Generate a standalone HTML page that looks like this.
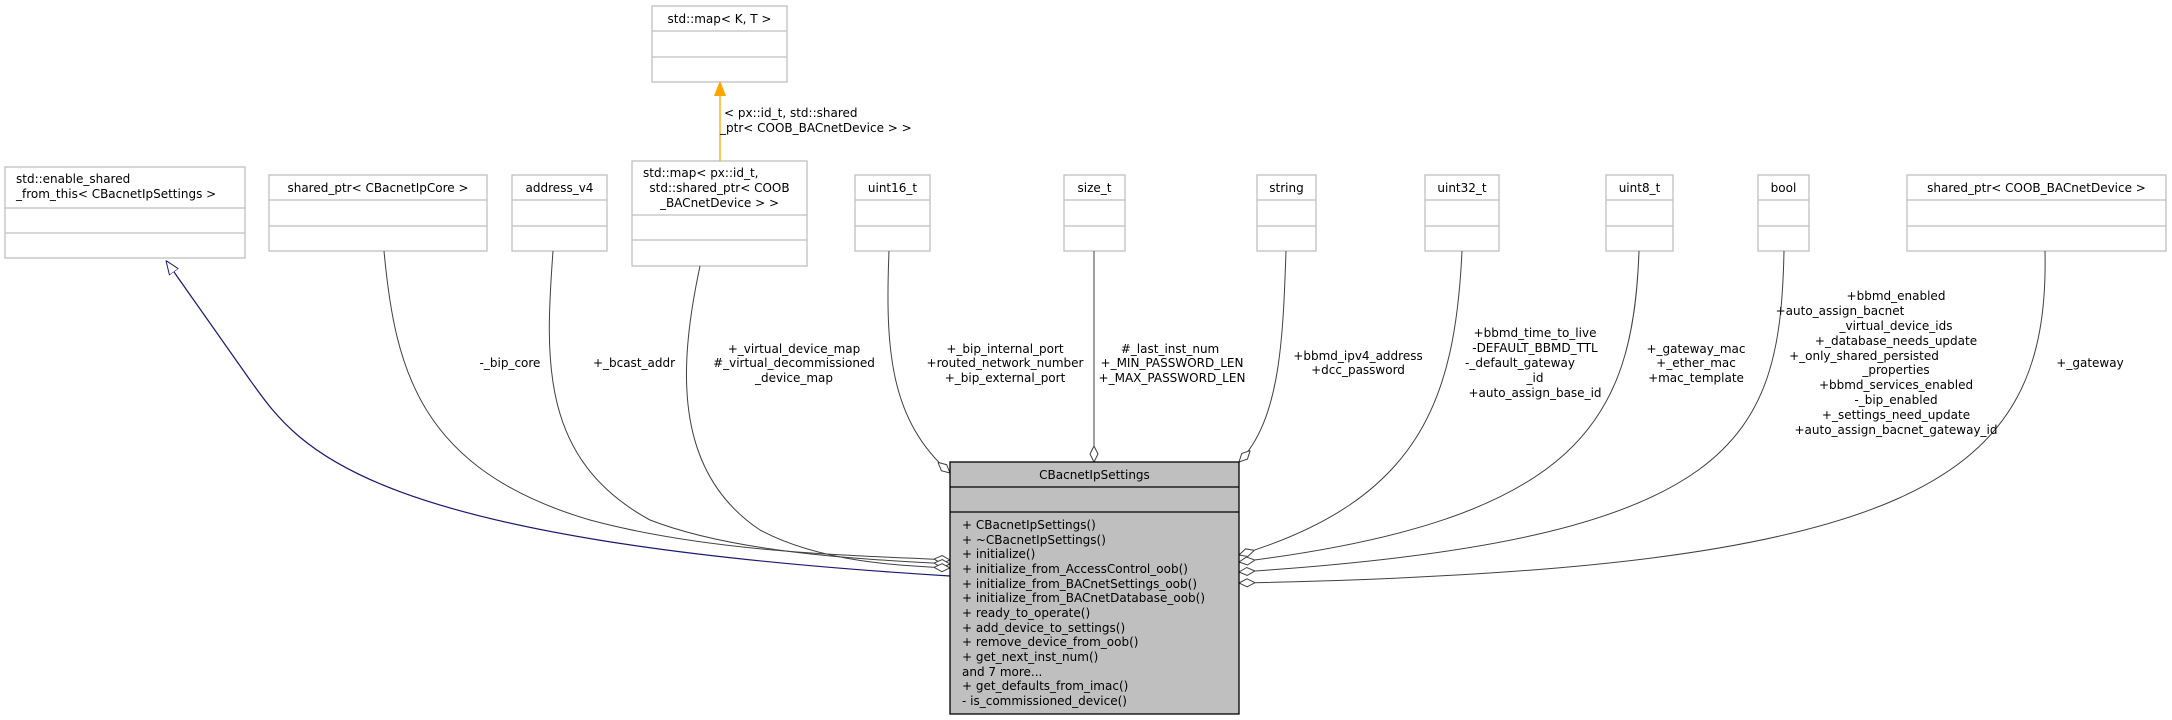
<!DOCTYPE html>
<html><head><meta charset="utf-8"><style>
html,body{margin:0;padding:0;background:#fff;}
svg{display:block;}
text{font-family:"DejaVu Sans","Liberation Sans",sans-serif;font-size:12px;fill:#000;}
.b{fill:#fff;stroke:#bfbfbf;stroke-width:1.3;}
.s{stroke:#bfbfbf;stroke-width:1.3;}
.e{fill:none;stroke:#404040;stroke-width:1;}
</style></head><body>
<svg width="2172" height="720" viewBox="0 0 2172 720" xmlns="http://www.w3.org/2000/svg">
<defs>
<marker id="dia" viewBox="0 0 16 10" refX="16" refY="5" markerWidth="16" markerHeight="10" markerUnits="userSpaceOnUse" orient="auto">
<path d="M0,5 L8,1 L16,5 L8,9 Z" fill="#fff" stroke="#404040" stroke-width="1"/></marker>
<marker id="tri" viewBox="0 0 14 12" refX="0" refY="6" markerWidth="14" markerHeight="12" markerUnits="userSpaceOnUse" orient="auto-start-reverse">
<path d="M14,6 L0,0.5 L0,11.5 Z" fill="#fff" stroke="#191970" stroke-width="1"/></marker>
<marker id="org" viewBox="0 0 14 12" refX="0" refY="6" markerWidth="14" markerHeight="12" markerUnits="userSpaceOnUse" orient="auto-start-reverse">
<path d="M14,6 L0,0.5 L0,11.5 Z" fill="#ffa500" stroke="#ffa500" stroke-width="1"/></marker>
</defs>

<!-- boxes -->
<rect class="b" x="652" y="6" width="135" height="76"/><line class="s" x1="652" y1="31" x2="787" y2="31"/><line class="s" x1="652" y1="57" x2="787" y2="57"/>
<text x="719.5" y="23" text-anchor="middle">std::map&lt; K, T &gt;</text>

<rect class="b" x="5" y="167" width="240" height="91"/><line class="s" x1="5" y1="208" x2="245" y2="208"/><line class="s" x1="5" y1="233" x2="245" y2="233"/>
<text x="16" y="183">std::enable_shared</text><text x="16" y="198">_from_this&lt; CBacnetIpSettings &gt;</text>

<rect class="b" x="269" y="175" width="218" height="76"/><line class="s" x1="269" y1="200" x2="487" y2="200"/><line class="s" x1="269" y1="226" x2="487" y2="226"/>
<text x="378" y="192" text-anchor="middle">shared_ptr&lt; CBacnetIpCore &gt;</text>

<rect class="b" x="512" y="175" width="95" height="76"/><line class="s" x1="512" y1="200" x2="607" y2="200"/><line class="s" x1="512" y1="226" x2="607" y2="226"/>
<text x="559.5" y="192" text-anchor="middle">address_v4</text>

<rect class="b" x="632" y="161" width="175" height="105"/><line class="s" x1="632" y1="215" x2="807" y2="215"/><line class="s" x1="632" y1="240" x2="807" y2="240"/>
<text x="643" y="177">std::map&lt; px::id_t,</text><text x="719.5" y="192" text-anchor="middle">std::shared_ptr&lt; COOB</text><text x="719.5" y="207" text-anchor="middle">_BACnetDevice &gt; &gt;</text>

<rect class="b" x="855" y="175" width="75" height="76"/><line class="s" x1="855" y1="200" x2="930" y2="200"/><line class="s" x1="855" y1="226" x2="930" y2="226"/>
<text x="892.5" y="192" text-anchor="middle">uint16_t</text>

<rect class="b" x="1064" y="175" width="61" height="76"/><line class="s" x1="1064" y1="200" x2="1125" y2="200"/><line class="s" x1="1064" y1="226" x2="1125" y2="226"/>
<text x="1094.5" y="192" text-anchor="middle">size_t</text>

<rect class="b" x="1257" y="175" width="59" height="76"/><line class="s" x1="1257" y1="200" x2="1316" y2="200"/><line class="s" x1="1257" y1="226" x2="1316" y2="226"/>
<text x="1286.5" y="192" text-anchor="middle">string</text>

<rect class="b" x="1425" y="175" width="74" height="76"/><line class="s" x1="1425" y1="200" x2="1499" y2="200"/><line class="s" x1="1425" y1="226" x2="1499" y2="226"/>
<text x="1462" y="192" text-anchor="middle">uint32_t</text>

<rect class="b" x="1606" y="175" width="67" height="76"/><line class="s" x1="1606" y1="200" x2="1673" y2="200"/><line class="s" x1="1606" y1="226" x2="1673" y2="226"/>
<text x="1639.5" y="192" text-anchor="middle">uint8_t</text>

<rect class="b" x="1758" y="175" width="51" height="76"/><line class="s" x1="1758" y1="200" x2="1809" y2="200"/><line class="s" x1="1758" y1="226" x2="1809" y2="226"/>
<text x="1783.5" y="192" text-anchor="middle">bool</text>

<rect class="b" x="1907" y="175" width="259" height="76"/><line class="s" x1="1907" y1="200" x2="2166" y2="200"/><line class="s" x1="1907" y1="226" x2="2166" y2="226"/>
<text x="2036.5" y="192" text-anchor="middle">shared_ptr&lt; COOB_BACnetDevice &gt;</text>

<!-- edges -->
<path d="M720,161 L720,96" fill="none" stroke="#ffa500" stroke-width="1.3" marker-end="url(#org)"/>
<text x="724" y="117">&lt; px::id_t, std::shared</text><text x="720" y="132">_ptr&lt; COOB_BACnetDevice &gt; &gt;</text>

<path d="M174,272 L250,380 C300,450 360,540 950,576" fill="none" stroke="#191970" stroke-width="1.2" marker-start="url(#tri)"/>
<path class="e" d="M384,251 C395,370 420,470 590,520 C720,555 880,556 950,560" marker-end="url(#dia)"/>
<path class="e" d="M553,251 C545,360 540,460 650,520 C740,555 880,560 950,564" marker-end="url(#dia)"/>
<path class="e" d="M700,266 C680,360 670,470 760,530 C820,562 900,566 950,568" marker-end="url(#dia)"/>
<path class="e" d="M889,251 C885,350 890,420 950,473" marker-end="url(#dia)"/>
<path class="e" d="M1094,251 L1094,462" marker-end="url(#dia)"/>
<path class="e" d="M1286,251 C1283,340 1280,420 1239,462" marker-end="url(#dia)"/>
<path class="e" d="M1462,251 C1455,400 1420,500 1239,555" marker-end="url(#dia)"/>
<path class="e" d="M1639,251 C1633,420 1580,520 1239,562" marker-end="url(#dia)"/>
<path class="e" d="M1784,251 C1780,440 1740,540 1239,572" marker-end="url(#dia)"/>
<path class="e" d="M2045,251 C2050,480 1920,570 1239,583" marker-end="url(#dia)"/>

<!-- edge labels -->
<g text-anchor="middle">
<text x="510" y="367">-_bip_core</text>
<text x="634" y="367">+_bcast_addr</text>
<text x="794" y="353">+_virtual_device_map</text><text x="794" y="367">#_virtual_decommissioned</text><text x="794" y="382">_device_map</text>
<text x="1005" y="353">+_bip_internal_port</text><text x="1005" y="367">+routed_network_number</text><text x="1005" y="382">+_bip_external_port</text>
<text x="1170" y="353">#_last_inst_num</text><text x="1172" y="367">+_MIN_PASSWORD_LEN</text><text x="1172" y="382">+_MAX_PASSWORD_LEN</text>
<text x="1358" y="360">+bbmd_ipv4_address</text><text x="1358" y="374">+dcc_password</text>
<text x="1535" y="337">+bbmd_time_to_live</text><text x="1535" y="352">-DEFAULT_BBMD_TTL</text><text x="1520" y="367">-_default_gateway</text><text x="1535" y="382">_id</text><text x="1535" y="397">+auto_assign_base_id</text>
<text x="1696" y="353">+_gateway_mac</text><text x="1696" y="367">+_ether_mac</text><text x="1696" y="382">+mac_template</text>
<text x="1896" y="300">+bbmd_enabled</text><text x="1840" y="315">+auto_assign_bacnet</text><text x="1896" y="330">_virtual_device_ids</text><text x="1896" y="345">+_database_needs_update</text><text x="1864" y="360">+_only_shared_persisted</text><text x="1896" y="374">_properties</text><text x="1896" y="389">+bbmd_services_enabled</text><text x="1896" y="404">-_bip_enabled</text><text x="1896" y="419">+_settings_need_update</text><text x="1896" y="434">+auto_assign_bacnet_gateway_id</text>
<text x="2090" y="367">+_gateway</text>
</g>

<!-- main box -->
<rect x="950" y="462" width="289" height="252" fill="#bfbfbf" stroke="#000" stroke-width="1.3"/>
<line x1="950" y1="487" x2="1239" y2="487" stroke="#000" stroke-width="1.3"/>
<line x1="950" y1="512" x2="1239" y2="512" stroke="#000" stroke-width="1.3"/>
<text x="1094.5" y="479" text-anchor="middle">CBacnetIpSettings</text>
<g>
<text x="962" y="529">+ CBacnetIpSettings()</text>
<text x="962" y="544">+ ~CBacnetIpSettings()</text>
<text x="962" y="558">+ initialize()</text>
<text x="962" y="573">+ initialize_from_AccessControl_oob()</text>
<text x="962" y="588">+ initialize_from_BACnetSettings_oob()</text>
<text x="962" y="602">+ initialize_from_BACnetDatabase_oob()</text>
<text x="962" y="617">+ ready_to_operate()</text>
<text x="962" y="632">+ add_device_to_settings()</text>
<text x="962" y="646">+ remove_device_from_oob()</text>
<text x="962" y="661">+ get_next_inst_num()</text>
<text x="962" y="676">and 7 more...</text>
<text x="962" y="690">+ get_defaults_from_imac()</text>
<text x="962" y="705">- is_commissioned_device()</text>
</g>
</svg>
</body></html>
